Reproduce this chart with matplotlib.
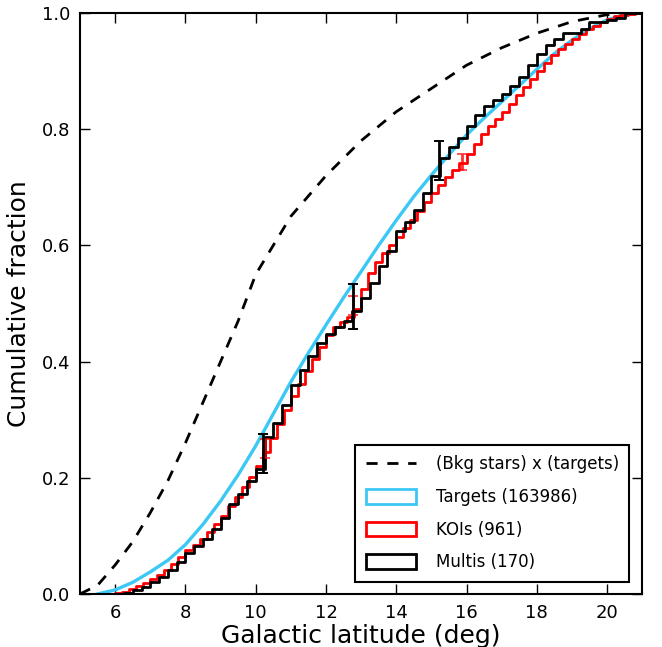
import numpy as np
import matplotlib
matplotlib.use('Agg')
import matplotlib.pyplot as plt
from matplotlib.patches import Patch
from matplotlib.lines import Line2D

# background stars x targets (smooth model curve)
bkg_x = [5.0, 5.5, 6.0, 6.5, 7.0, 7.5, 8.0, 8.5, 9.0, 9.5, 10.0, 10.5, 11.0,
         12.0, 13.0, 14.0, 15.0, 16.0, 17.0, 18.0, 19.0, 20.0, 21.0]
bkg_y = [0.0, 0.015, 0.05, 0.09, 0.14, 0.195, 0.26, 0.33, 0.40, 0.47, 0.55, 0.60, 0.65,
         0.72, 0.78, 0.83, 0.87, 0.91, 0.94, 0.965, 0.985, 0.997, 1.0]

# targets (163986) - smooth cumulative
targ_x = [5.5, 6.0, 6.5, 7.0, 7.5, 8.0, 8.5, 9.0, 9.5, 10.0, 10.5, 11.0, 11.5, 12.0,
          12.5, 13.0, 13.5, 14.0, 14.5, 15.0, 15.5, 16.0, 16.5, 17.0, 17.5, 18.0,
          18.5, 19.0, 19.5, 20.0, 20.5, 21.0]
targ_y = [0.0, 0.007, 0.02, 0.038, 0.058, 0.085, 0.12, 0.16, 0.205, 0.255, 0.31, 0.365,
          0.415, 0.463, 0.51, 0.555, 0.60, 0.643, 0.684, 0.721, 0.756, 0.79, 0.819, 0.847,
          0.875, 0.903, 0.93, 0.953, 0.973, 0.988, 0.997, 1.0]

# KOIs (961) - cumulative histogram, bin edges every 0.2 deg
koi_edges = np.round(np.arange(5.6, 21.01, 0.2), 1)
koi_cum = [0, 0, 0.001, 0.004, 0.008, 0.013, 0.019,
           0.025, 0.033, 0.041, 0.051, 0.063,
           0.075, 0.085, 0.095, 0.107, 0.121,
           0.135, 0.151, 0.167, 0.184, 0.202,
           0.22, 0.244, 0.268, 0.292, 0.316,
           0.34, 0.362, 0.384, 0.405, 0.425,
           0.445, 0.459, 0.468, 0.476, 0.49,
           0.525, 0.552, 0.572, 0.587, 0.601,
           0.615, 0.629, 0.644, 0.659, 0.674,
           0.69, 0.704, 0.718, 0.73, 0.742,
           0.758, 0.775, 0.792, 0.806, 0.818,
           0.83, 0.844, 0.858, 0.872, 0.886,
           0.90, 0.914, 0.927, 0.938, 0.947,
           0.955, 0.964, 0.972, 0.978, 0.984,
           0.99, 0.994, 0.997, 0.999, 1.0,
           1.0]

# Multis (170) - cumulative histogram, bin edges every 0.25 deg
mult_edges = np.arange(5.5, 21.01, 0.25)
mult_cum = [0, 0,
            0, 0.002, 0.006, 0.012,
            0.02, 0.03, 0.041, 0.055,
            0.07, 0.083, 0.095, 0.112,
            0.13, 0.155, 0.172, 0.195,
            0.215, 0.27, 0.295, 0.325,
            0.36, 0.385, 0.41, 0.432,
            0.448, 0.46, 0.47, 0.487,
            0.51, 0.535, 0.565, 0.59,
            0.625, 0.64, 0.66, 0.69,
            0.72, 0.75, 0.77, 0.785,
            0.805, 0.825, 0.84, 0.85,
            0.86, 0.875, 0.89, 0.91,
            0.93, 0.945, 0.955, 0.966,
            0.966, 0.972, 0.985, 0.985,
            0.988, 0.992, 1.0, 1.0,
            1.0]

# error bars
koi_err_x = [10.25, 12.77, 15.86]
koi_err_y = [0.25, 0.496, 0.744]
koi_err = [0.016, 0.016, 0.014]
mult_err_x = [10.2, 12.77, 15.22]
mult_err_y = [0.242, 0.495, 0.746]
mult_err = [0.033, 0.039, 0.034]

CYAN = '#3cc8f4'

fig = plt.figure(figsize=(6.62, 6.47), dpi=100)
ax = fig.add_axes([0.121, 0.082, 0.849, 0.898])

ax.plot(bkg_x, bkg_y, color='k', lw=2, ls=(0, (4, 3.5)))
ax.plot(targ_x, targ_y, color=CYAN, lw=2.4)
ax.step(koi_edges, koi_cum, where='post', color='red', lw=2)
ax.step(mult_edges, mult_cum, where='post', color='k', lw=2)

ax.errorbar(koi_err_x, koi_err_y, yerr=koi_err, fmt='none', ecolor='red',
            elinewidth=2, capsize=3.5, capthick=1.2, alpha=0.8)
ax.errorbar(mult_err_x, mult_err_y, yerr=mult_err, fmt='none', ecolor='k',
            elinewidth=2, capsize=3.5, capthick=1.4)

ax.set_xlim(5, 21)
ax.set_ylim(0, 1)
ax.set_xticks(range(6, 21, 2))
ax.set_yticks(np.arange(0, 1.01, 0.2))
ax.set_yticklabels(['0.0', '0.2', '0.4', '0.6', '0.8', '1.0'])
ax.tick_params(direction='in', top=True, right=True, length=7, width=1,
               labelsize=13, pad=7)
for s in ax.spines.values():
    s.set_linewidth(1.5)

ax.set_xlabel('Galactic latitude (deg)', fontsize=18, labelpad=2)
ax.set_ylabel('Cumulative fraction', fontsize=18, labelpad=8)

handles = [Line2D([], [], color='k', lw=2, ls=(0, (4, 3.5))),
           Patch(facecolor='none', edgecolor=CYAN, lw=2),
           Patch(facecolor='none', edgecolor='red', lw=2),
           Patch(facecolor='none', edgecolor='k', lw=2)]
labels = ['(Bkg stars) x (targets)', 'Targets (163986)', 'KOIs (961)', 'Multis (170)']
leg = ax.legend(handles, labels, loc='lower right', fontsize=12, handlelength=3.0,
                handleheight=1.0, labelspacing=0.88, borderpad=0.62, handletextpad=1.2,
                borderaxespad=0, fancybox=False, framealpha=1, edgecolor='k',
                bbox_to_anchor=(0.977, 0.021))
leg.get_frame().set_linewidth(1.5)

fig.savefig('out.png', dpi=100)
